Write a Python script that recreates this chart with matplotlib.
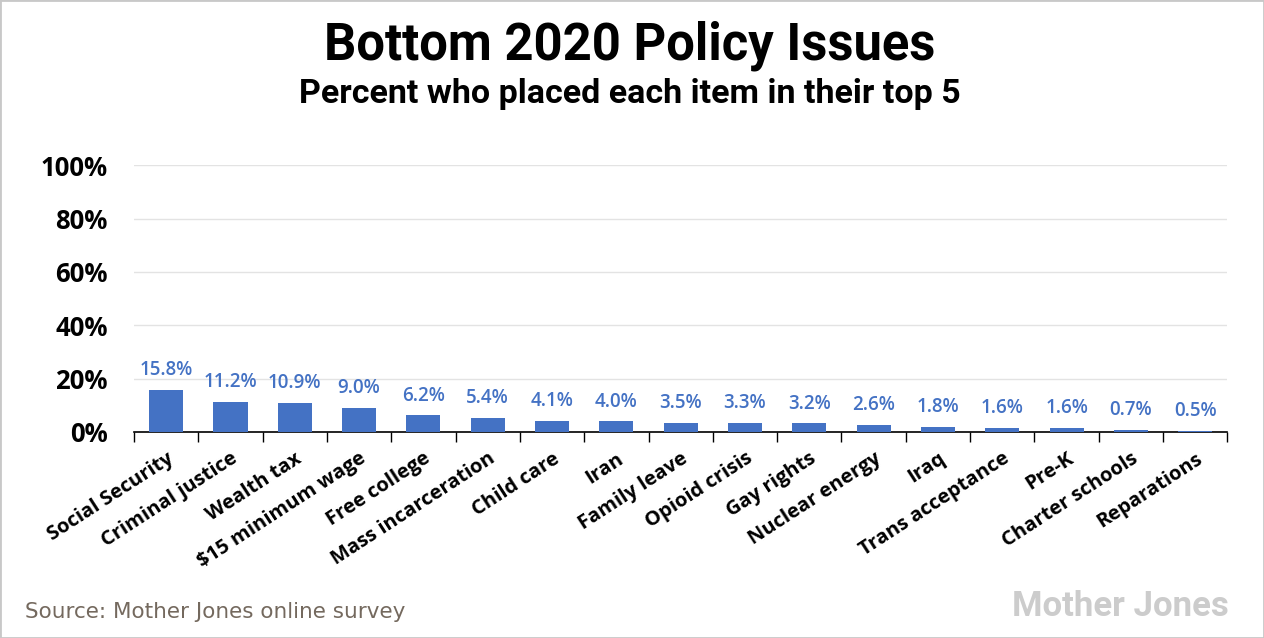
import numpy as np
import matplotlib
matplotlib.use("Agg")
from matplotlib import pyplot as plt
from matplotlib.patches import Rectangle

issues = ["Social Security", "Criminal justice", "Wealth tax", "$15 minimum wage",
          "Free college", "Mass incarceration", "Child care", "Iran", "Family leave",
          "Opioid crisis", "Gay rights", "Nuclear energy", "Iraq", "Trans acceptance",
          "Pre-K", "Charter schools", "Reparations"]
pct = [15.8, 11.2, 10.9, 9.0, 6.2, 5.4, 4.1, 4.0, 3.5, 3.3, 3.2, 2.6, 1.8, 1.6, 1.6, 0.7, 0.5]
yticks = [0, 20, 40, 60, 80, 100]

blue = "#4472c4"
bold_font = ["Open Sans", "DejaVu Sans"]
narrow_font = ["Roboto", "DejaVu Sans"]

fig = plt.figure(figsize=(12.64, 6.38), dpi=100)
ax = fig.add_axes([0.106, 0.323, 0.865, 0.418])

x = np.arange(len(issues))
ax.bar(x, pct, width=0.53, color=blue, zorder=3)
for xi, v in zip(x, pct):
    ax.annotate(f"{v:.1f}%", (xi, v), xytext=(0, 7), textcoords="offset points",
                ha="center", va="bottom", color=blue, fontsize=13.5,
                family=bold_font, fontweight="semibold")

ax.set_xlim(-0.5, len(issues) - 0.5)
ax.set_ylim(0, 100)
ax.set_yticks(yticks)
ax.set_yticklabels([f"{t}%" for t in yticks], family=bold_font, fontweight="bold", fontsize=18.5)
ax.tick_params(axis="y", length=0, pad=19)
ax.yaxis.grid(True, color="#e3e3e3", lw=1, zorder=0)

ax.set_xticks(x)
ax.set_xticklabels(issues, rotation=33, ha="right", rotation_mode="anchor",
                   family=bold_font, fontweight="bold", fontsize=14.5)
ax.tick_params(axis="x", which="major", length=0, pad=12)
ax.set_xticks(np.arange(-0.5, len(issues), 1), minor=True)
ax.tick_params(axis="x", which="minor", length=7, width=1, color="black", direction="out")

for s in ["left", "right", "top"]:
    ax.spines[s].set_visible(False)
ax.spines["bottom"].set_color("black")
ax.spines["bottom"].set_linewidth(1.2)

fig.text(0.498, 0.928, "Bottom 2020 Policy Issues", ha="center", va="center",
         family=narrow_font, fontweight="bold", fontsize=36.5)
fig.text(0.498, 0.853, "Percent who placed each item in their top 5", ha="center", va="center",
         family=narrow_font, fontweight="bold", fontsize=24.5)
fig.text(0.02, 0.04, "Source: Mother Jones online survey", ha="left", va="center",
         family="DejaVu Sans", fontsize=15.5, color="#74695e")
fig.text(0.972, 0.05, "Mother Jones", ha="right", va="center",
         family=narrow_font, fontweight="bold", fontsize=25, color="#cccccc")

fig.patches.append(Rectangle((0, 0), 1, 1, transform=fig.transFigure, fill=False,
                             edgecolor="#c8c8c8", lw=2))

fig.savefig("out.png", dpi=100)
